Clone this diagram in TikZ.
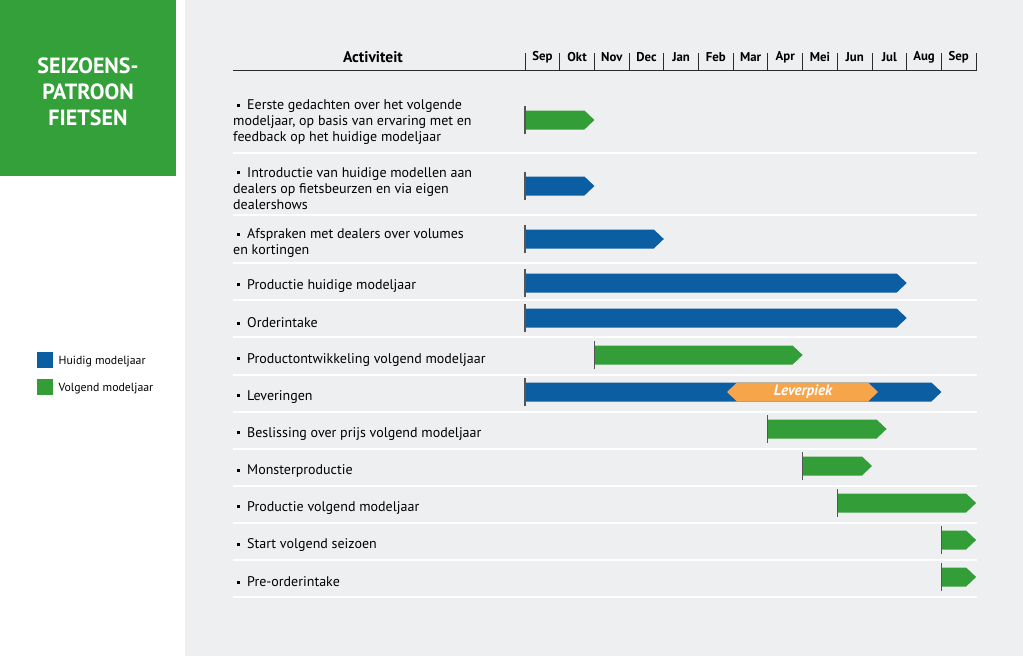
\documentclass[tikz,border=0pt]{standalone}
\usepackage{fontspec}
\setmainfont{PT Sans}
\usepackage{tikz}
\usetikzlibrary{positioning}
\definecolor{seasongreen}{HTML}{34A039}
\definecolor{bargreen}{HTML}{339E37}
\definecolor{barblue}{HTML}{0B5EA1}
\definecolor{peakorange}{HTML}{F6A54B}
\definecolor{panelgray}{HTML}{EEEFF1}
\definecolor{darkgray}{HTML}{2B2B2B}
\newcommand{\blt}{\hspace{4pt}\rule[3pt]{3pt}{3pt}\hspace{7pt}}
\newcommand{\ganttbar}[4]{%
  \pgfmathsetmacro{\xa}{525+34.7*#3}%
  \pgfmathsetmacro{\xb}{525+34.7*#4}%
  \fill[#1] (\xa,#2-9.5) -- (\xb-10,#2-9.5) -- (\xb,#2) -- (\xb-10,#2+9.5) -- (\xa,#2+9.5) -- cycle;
  \draw[starttick] (\xa,#2-14) -- (\xa,#2+14);}
\tikzset{
  starttick/.style={darkgray!80, line width=1.1pt},
  monthtick/.style={darkgray, line width=0.9pt},
  separator/.style={white, line width=2pt},
  rowlabel/.style={anchor=west, inner sep=0pt, align=left, font=\fontsize{14}{16}\selectfont, text=black},
  monthlabel/.style={font=\fontsize{12.8}{15}\selectfont\bfseries},
  legendbox/.style={minimum size=16pt, inner sep=0pt, anchor=north west},
  legendlabel/.style={right=5pt, inner sep=0pt, font=\fontsize{11.8}{14}\selectfont}
}
\begin{document}
\begin{tikzpicture}[x=1pt, y=-1pt]
  \useasboundingbox (0,0) rectangle (1023,656);
  \fill[panelgray] (185,0) rectangle (1023,656);
  \fill[seasongreen] (0,0) rectangle (176,176);
  \node[text=white, align=center, font=\fontsize{22}{26}\selectfont\bfseries] (title) at (88,91.5) {SEIZOENS-\\PATROON\\FIETSEN};

  \node[legendbox, fill=barblue] (huidig) at (37,352) {};
  \node[legendlabel] (huidigtxt) at ([yshift=-1.5pt]huidig.east) {Huidig modeljaar};
  \node[legendbox, fill=bargreen] (volgend) at (37,379) {};
  \node[legendlabel] (volgendtxt) at ([yshift=-1.5pt]volgend.east) {Volgend modeljaar};

  \node[font=\fontsize{15.5}{18}\selectfont\bfseries] (activiteit) at (373,57) {Activiteit};
  \draw[darkgray, line width=1.3pt] (233,70.5) -- (977,70.5);
  \foreach \m [evaluate=\m as \x using 525+34.7*\m] in {0,...,13}
    \draw[monthtick] (\x,53) -- (\x,70.5);
  \foreach \i/\mon [evaluate=\i as \x using 525+34.7*\i+17.35] in {0/Sep,1/Okt,2/Nov,3/Dec,4/Jan,5/Feb,6/Mar,7/Apr,8/Mei,9/Jun,10/Jul,11/Aug,12/Sep}
    \node[monthlabel] (month\i) at (\x,57) {\mon};

  \foreach \y in {153,215,263,300,337,375,412,449,486,523,560,597}
    \draw[separator] (233,\y) -- (977,\y);

  \node[rowlabel] (r1) at (233,122.5) {\blt Eerste gedachten over het volgende\\modeljaar, op basis van ervaring met en\\feedback op het huidige modeljaar};
  \node[rowlabel] (r2) at (233,188.5) {\blt Introductie van huidige modellen aan\\dealers op fietsbeurzen en via eigen\\dealershows};
  \node[rowlabel] (r3) at (233,243.5) {\blt Afspraken met dealers over volumes\\en kortingen};
  \node[rowlabel] (r4) at (233,286) {\blt Productie huidige modeljaar};
  \node[rowlabel] (r5) at (233,323) {\blt Orderintake};
  \node[rowlabel] (r6) at (233,360) {\blt Productontwikkeling volgend modeljaar};
  \node[rowlabel] (r7) at (233,397) {\blt Leveringen};
  \node[rowlabel] (r8) at (233,434) {\blt Beslissing over prijs volgend modeljaar};
  \node[rowlabel] (r9) at (233,471) {\blt Monsterproductie};
  \node[rowlabel] (r10) at (233,508) {\blt Productie volgend modeljaar};
  \node[rowlabel] (r11) at (233,545) {\blt Start volgend seizoen};
  \node[rowlabel] (r12) at (233,582) {\blt Pre-orderintake};

  \ganttbar{bargreen}{120}{0}{2}
  \ganttbar{barblue}{186}{0}{2}
  \ganttbar{barblue}{239}{0}{4}
  \ganttbar{barblue}{283}{0}{11}
  \ganttbar{barblue}{318}{0}{11}
  \ganttbar{bargreen}{355}{2}{8}
  \ganttbar{barblue}{392}{0}{12}
  \fill[peakorange] (727,392) -- (737,382.5) -- (868,382.5) -- (878,392) -- (868,401.5) -- (737,401.5) -- cycle;
  \node[text=white, font=\fontsize{15}{17}\selectfont\bfseries\itshape] (piek) at (803,392) {Leverpiek};
  \ganttbar{bargreen}{429}{7}{10.42}
  \ganttbar{bargreen}{466}{8}{10}
  \ganttbar{bargreen}{503}{9}{13}
  \ganttbar{bargreen}{540}{12}{13}
  \ganttbar{bargreen}{577}{12}{13}
\end{tikzpicture}
\end{document}
